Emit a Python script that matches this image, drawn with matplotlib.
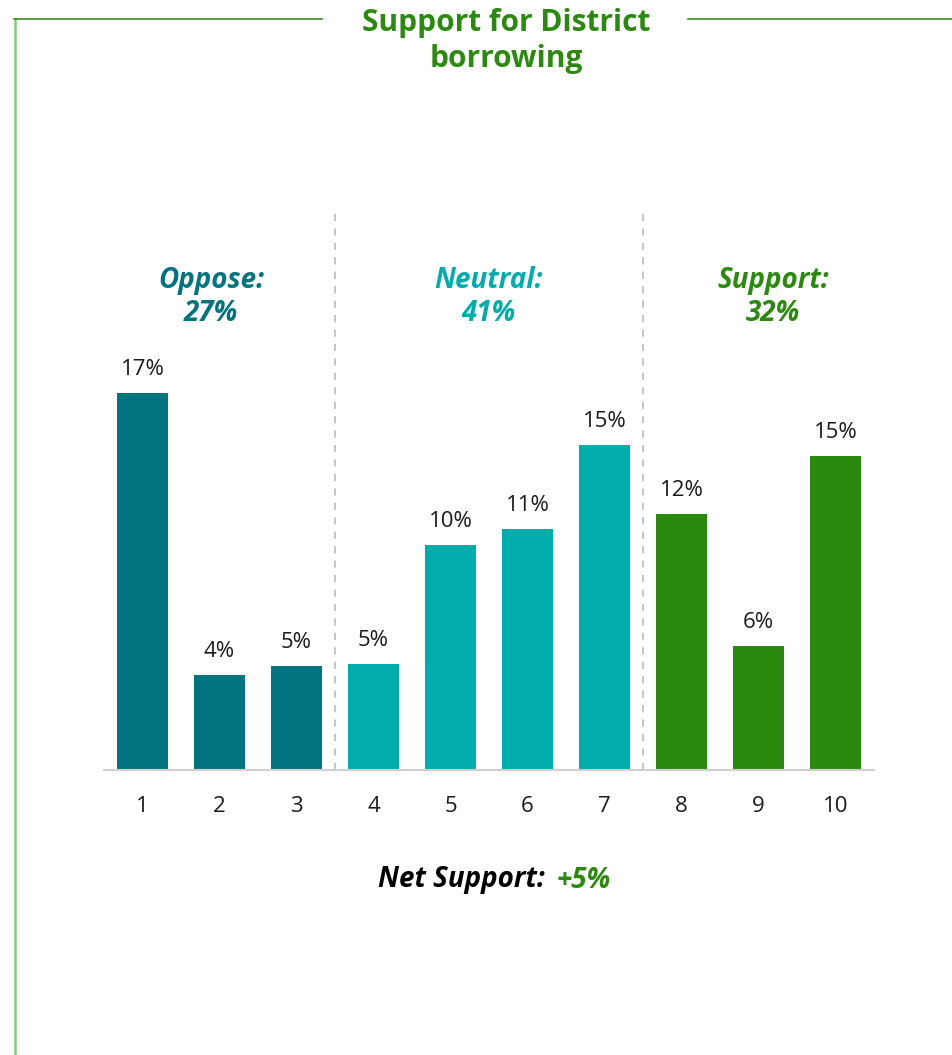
import matplotlib
matplotlib.use("Agg")
import matplotlib.pyplot as plt
from matplotlib.lines import Line2D

# valores (%)
scores = [1, 2, 3, 4, 5, 6, 7, 8, 9, 10]
shares = [17.4, 4.4, 4.8, 4.9, 10.4, 11.1, 15.0, 11.8, 5.7, 14.5]
value_labels = ["17%", "4%", "5%", "5%", "10%", "11%", "15%", "12%", "6%", "15%"]
groups = ["Oppose:\n27%", "Neutral:\n41%", "Support:\n32%"]
group_of_bar = [0, 0, 0, 1, 1, 1, 1, 2, 2, 2]
net_label = "+5%"

C_OPP = "#00747F"
C_NEU = "#00ADAD"
C_SUP = "#2A8A0E"
colors = [C_OPP, C_NEU, C_SUP]

plt.rcParams["font.family"] = ["Open Sans", "DejaVu Sans"]

W, H = 952, 1055
fig = plt.figure(figsize=(W / 100, H / 100), dpi=100)

# eixos: baseline em y=770 px, x de 104 a 874 px
ax = fig.add_axes([104 / W, (H - 770) / H, 770 / W, 570 / H])
bar_cols = [colors[g] for g in group_of_bar]
ax.bar(scores, shares, width=0.675, color=bar_cols, zorder=2)
for x, v, lab in zip(scores, shares, value_labels):
    ax.text(x, v + 0.6, lab, ha="center", va="bottom", fontsize=16, color="#1a1a1a")

ax.set_xlim(0.5, 10.5)
ax.set_ylim(0, 26.3)
ax.set_xticks(scores)
ax.set_xticklabels([str(s) for s in scores], fontsize=16, color="#1a1a1a")
ax.tick_params(axis="x", length=0, pad=19)
ax.set_yticks([])
for s in ["left", "right", "top"]:
    ax.spines[s].set_visible(False)
ax.spines["bottom"].set_color("#d0d0d0")
ax.spines["bottom"].set_linewidth(1.5)

# separadores tracejados entre grupos
for xs in (3.5, 7.5):
    ax.plot([xs, xs], [0, 26.0], ls=(0, (4, 4)), color="#c0c0c0", lw=1.3, zorder=1)

# rótulos dos grupos
group_x = [1.89, 5.49, 9.19]
for gx, txt, c in zip(group_x, groups, colors):
    ax.text(gx, (770 - 297) / 21.67, txt, ha="center", va="center", fontsize=20,
            fontweight="bold", fontstyle="italic", color=c, linespacing=1.22)

# título
fig.text(506 / W, 1 - 41 / H, "Support for District\nborrowing", ha="center", va="center",
         fontsize=21.5, fontweight="bold", color=C_SUP, linespacing=1.3)

# net support
fig.text(552 / W, 1 - 880 / H, "Net Support: ", ha="right", va="center", fontsize=20,
         fontweight="bold", fontstyle="italic", color="black")
fig.text(557 / W, 1 - 880 / H, net_label, ha="left", va="center", fontsize=20,
         fontweight="bold", fontstyle="italic", color=C_SUP)

# moldura
fig.add_artist(Line2D([14.5 / W, 14.5 / W], [0, 1 - 19 / H], color="#86CB79", lw=1.8))
fig.add_artist(Line2D([14 / W, 322 / W], [1 - 19 / H, 1 - 19 / H], color="#3A8F1C", lw=1.2))
fig.add_artist(Line2D([688 / W, 1], [1 - 19 / H, 1 - 19 / H], color="#3A8F1C", lw=1.2))

fig.savefig("out.png", dpi=100, facecolor="white")
